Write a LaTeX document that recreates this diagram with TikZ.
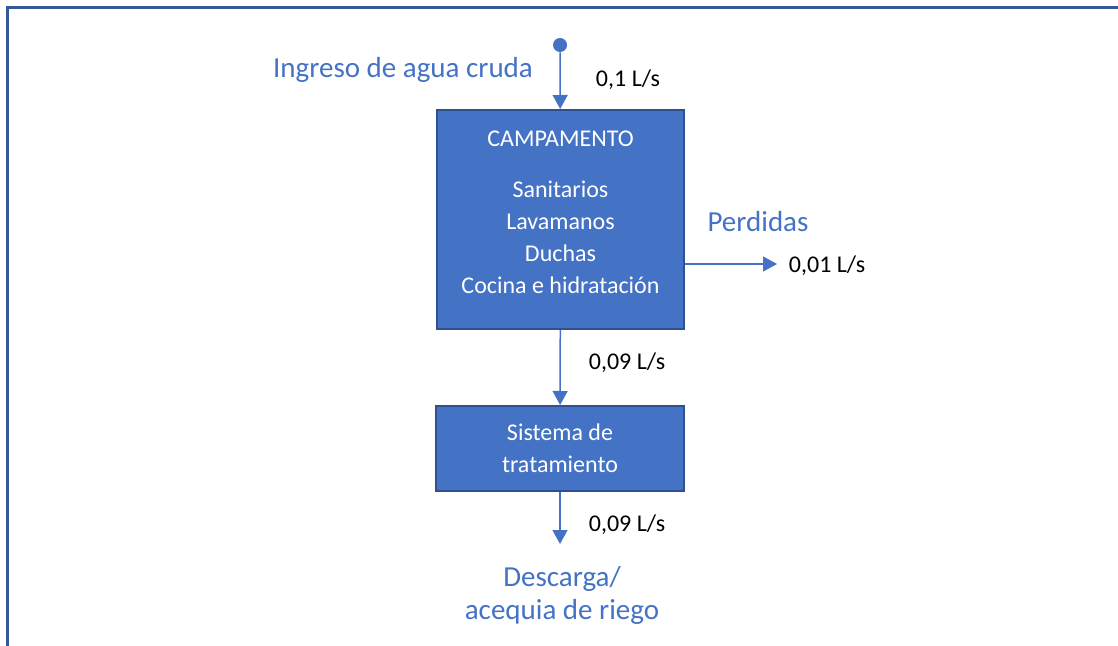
\documentclass[tikz,border=0pt]{standalone}
\usepackage{fontspec}
\setmainfont{Carlito}
\usepackage{tikz}
\usetikzlibrary{arrows.meta,positioning}

\definecolor{boxblue}{RGB}{68,114,196}
\definecolor{boxedge}{RGB}{47,82,143}
\definecolor{framecol}{RGB}{54,88,150}

\begin{document}
\begin{tikzpicture}[
  x=0.5pt, y=-0.5pt,
  procbox/.style={draw=boxedge, line width=1pt, fill=boxblue, text=white, align=center, font=\fontsize{12}{16}\selectfont, inner sep=0pt},
  boxtext/.style={text=white, align=center, font=\fontsize{12}{16}\selectfont, inner sep=0pt},
  flowlabel/.style={font=\fontsize{12}{14}\selectfont, text=black},
  bluelabel/.style={font=\fontsize{14.5}{16.5}\selectfont, text=boxblue, align=center},
  arrow/.style={-{Triangle[length=7pt, width=7.5pt]}, boxblue, line width=0.75pt}
]
\useasboundingbox (0,0) rectangle (1118,646);

% open frame
\draw[framecol, line width=1.5pt] (7.5,646) -- (7.5,7.5) -- (1118,7.5);

\node[circle, fill=boxblue, inner sep=0pt, minimum size=7pt] (src) at (560,45) {};
\node[procbox, minimum width=123.5pt, minimum height=109.5pt] (camp) at (560.5,219.5) {};
\node[boxtext] (camptxt) at (560.5,212.5)
  {CAMPAMENTO\\[9.5pt] Sanitarios\\ Lavamanos\\ Duchas\\ Cocina e hidrataci\'on};
\node[procbox, minimum width=124pt, minimum height=42.5pt] (trat) at (560,448.5)
  {Sistema de\\ tratamiento};

\coordinate (perdout) at (777,264);
\coordinate (descout) at (560,544);

\draw[arrow] (src) -- (camp);
\draw[arrow] (camp.east |- perdout) -- (perdout);
\draw[arrow] (camp) -- (trat);
\draw[arrow] (trat) -- (descout);

% texts
\node[bluelabel] (ingreso) at (403,70) {Ingreso de agua cruda};
\node[bluelabel] (perdidas) at (758,222) {Perdidas};
\node[bluelabel] (descarga) at (562,595) {Descarga/\\ acequia de riego};
\node[flowlabel] (q0) at (628,80) {0,1 L/s};
\node[flowlabel] (q1) at (827,266) {0,01 L/s};
\node[flowlabel] (q2) at (627,363) {0,09 L/s};
\node[flowlabel] (q3) at (627,525) {0,09 L/s};
\end{tikzpicture}
\end{document}
